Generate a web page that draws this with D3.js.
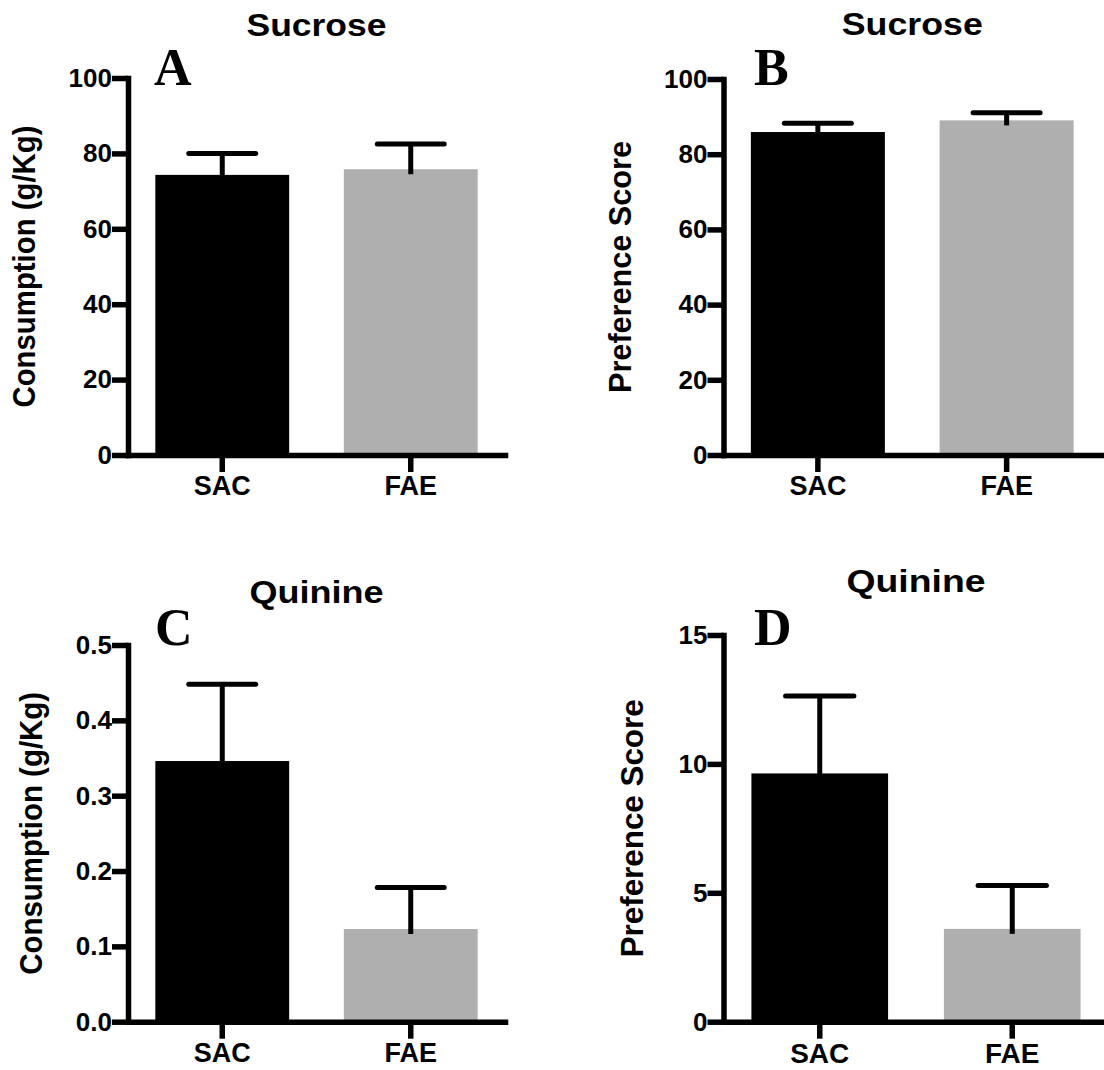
<!DOCTYPE html>
<html><head><meta charset="utf-8">
<script src="https://cdn.jsdelivr.net/npm/d3@7"></script>
<style>
body{margin:0;background:#fff}
svg{display:block}
text{font-family:"Liberation Sans",Arial,sans-serif;font-weight:bold;fill:#000}
</style>
</head><body>
<svg id="chart" width="1104" height="1070"></svg>
<script>
// ---- data ----
const categories = ["SAC", "FAE"];
const sucroseConsumption = [74.3, 75.8];
const sucroseConsumptionSEM = [5.7, 6.7];
const sucrosePreference = [85.9, 89.0];
const sucrosePreferenceSEM = [2.3, 2.0];
const quinineConsumption = [0.346, 0.123];
const quinineConsumptionSEM = [0.102, 0.055];
const quininePreference = [9.63, 3.60];
const quininePreferenceSEM = [3.0, 1.68];
const ticksSucrose = [0, 20, 40, 60, 80, 100];
const ticksQuinineConsumption = [0, 0.1, 0.2, 0.3, 0.4, 0.5];
const ticksQuininePreference = [0, 5, 10, 15];
const panelTitles = ["Sucrose", "Sucrose", "Quinine", "Quinine"];
const panelLetters = ["A", "B", "C", "D"];
const yTitles = ["Consumption (g/Kg)", "Preference Score", "Consumption (g/Kg)", "Preference Score"];

// ---- layout ----
const barColors = ["#000000", "#afafb0"];
const svg = d3.select("#chart");

const panels = [
  {values: sucroseConsumption, sem: sucroseConsumptionSEM, ticks: ticksSucrose, fmt: d3.format("d"),
   x0: 128, x1: 505, y0: 455, y1: 78, titleY: 35.5, titleLen: 140, letterX: 154, letterY: 85,
   yTitleX: 35, yTitleFs: 31, yTitleLen: 282, xfs: 27},
  {values: sucrosePreference, sem: sucrosePreferenceSEM, ticks: ticksSucrose, fmt: d3.format("d"),
   x0: 723.5, x1: 1101, y0: 455, y1: 79, titleY: 35, titleLen: 141, letterX: 754, letterY: 85,
   yTitleX: 631, yTitleFs: 31, yTitleLen: 252, xfs: 27},
  {values: quinineConsumption, sem: quinineConsumptionSEM, ticks: ticksQuinineConsumption, fmt: d3.format(".1f"),
   x0: 128, x1: 505, y0: 1021.7, y1: 645, titleY: 603, titleLen: 134, letterX: 155, letterY: 645,
   yTitleX: 42, yTitleFs: 31, yTitleLen: 283, xfs: 27},
  {values: quininePreference, sem: quininePreferenceSEM, ticks: ticksQuininePreference, fmt: d3.format("d"),
   x0: 723.5, x1: 1108.5, y0: 1021.7, y1: 635, titleY: 592, titleLen: 139, letterX: 754, letterY: 645,
   yTitleX: 643, yTitleFs: 32, yTitleLen: 258, xfs: 28}
];

const AXW = 5.5;

panels.forEach((p, i) => {
  const g = svg.append("g");
  const x = d3.scaleBand().domain(categories).range([p.x0, p.x1]).paddingInner(0.29).paddingOuter(0.145);
  const ymax = p.ticks[p.ticks.length - 1];
  const y = d3.scaleLinear().domain([0, ymax]).range([p.y0, p.y1]);

  // bars
  g.selectAll("rect.bar").data(categories).join("rect")
    .attr("class", "bar")
    .attr("x", d => x(d))
    .attr("width", x.bandwidth())
    .attr("y", (d, j) => y(p.values[j]))
    .attr("height", (d, j) => y(0) - y(p.values[j]))
    .attr("fill", (d, j) => barColors[j]);

  // error bars (upper)
  const capW = x.bandwidth() / 2;
  categories.forEach((c, j) => {
    const cx = x(c) + x.bandwidth() / 2;
    const top = y(p.values[j] + p.sem[j]);
    g.append("line").attr("x1", cx).attr("x2", cx)
      .attr("y1", y(p.values[j]) + 5).attr("y2", top)
      .attr("stroke", "#000").attr("stroke-width", 5);
    g.append("line").attr("x1", cx - capW / 2).attr("x2", cx + capW / 2)
      .attr("y1", top).attr("y2", top)
      .attr("stroke", "#000").attr("stroke-width", 5).attr("stroke-linecap", "round");
  });

  // y axis
  const ya = g.append("g").attr("transform", `translate(${p.x0},0)`)
    .call(d3.axisLeft(y).tickValues(p.ticks).tickFormat(p.fmt).tickSize(16).tickSizeOuter(0).tickPadding(0));
  ya.select(".domain").attr("stroke", "#000").attr("stroke-width", AXW).attr("stroke-linecap", "square");
  ya.selectAll(".tick line").attr("stroke", "#000").attr("stroke-width", AXW);
  ya.selectAll(".tick text").attr("font-size", 26).attr("font-family", null).attr("fill", "#000");

  // x axis
  const xa = g.append("g").attr("transform", `translate(0,${p.y0})`)
    .call(d3.axisBottom(x).tickSize(17).tickSizeOuter(0).tickPadding(4));
  xa.select(".domain").attr("stroke", "#000").attr("stroke-width", AXW).attr("stroke-linecap", "square");
  xa.selectAll(".tick line").attr("stroke", "#000").attr("stroke-width", AXW);
  xa.selectAll(".tick text").attr("font-size", p.xfs).attr("font-family", null).attr("fill", "#000");

  // title
  g.append("text").attr("x", (p.x0 + p.x1) / 2).attr("y", p.titleY)
    .attr("text-anchor", "middle").attr("font-size", 32)
    .attr("textLength", p.titleLen).attr("lengthAdjust", "spacingAndGlyphs")
    .text(panelTitles[i]);

  // panel letter
  g.append("text").attr("x", p.letterX).attr("y", p.letterY)
    .attr("font-size", 52).style("font-family", "'Liberation Serif','Times New Roman',serif")
    .text(panelLetters[i]);

  // y title
  g.append("text")
    .attr("transform", `translate(${p.yTitleX},${(p.y0 + p.y1) / 2}) rotate(-90)`)
    .attr("text-anchor", "middle").attr("font-size", p.yTitleFs)
    .attr("textLength", p.yTitleLen).attr("lengthAdjust", "spacingAndGlyphs")
    .text(yTitles[i]);
});
</script>
</body></html>
